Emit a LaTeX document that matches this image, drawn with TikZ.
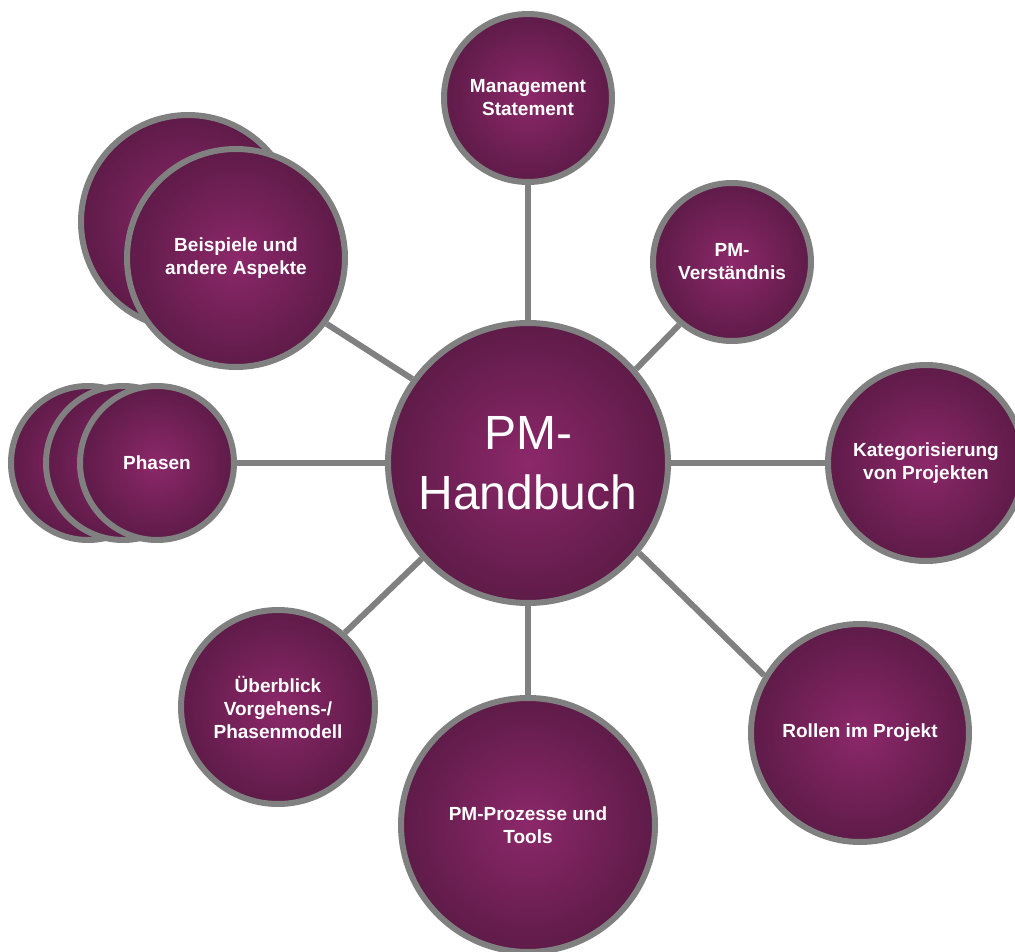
\documentclass[tikz,border=0pt]{standalone}
\usepackage{fontspec}
\setmainfont{Liberation Sans}
\pgfdeclarelayer{bg}
\pgfsetlayers{bg,main}
\definecolor{bubin}{RGB}{140,40,106}
\definecolor{bubout}{RGB}{94,27,72}
\definecolor{rim}{RGB}{128,128,128}
\tikzset{
  bubble/.style={circle, inner sep=0pt, draw=rim, line width=6pt,
    shading=radial, inner color=bubin, outer color=bubout,
    text=white, align=center, font=\bfseries\fontsize{19}{23}\selectfont},
  hubstyle/.style={bubble, font=\fontsize{48}{60}\selectfont},
  conn/.style={draw=rim, line width=6pt}
}
\begin{document}
\begin{tikzpicture}[x=1pt,y=-1pt]
\useasboundingbox (0,0) rectangle (1015,952);

% hub
\node[hubstyle, minimum size=280] (hub) at (528,463) {PM-\\Handbuch};

% satellites
\node[bubble, minimum size=168] (ms) at (528,98) {Management\\Statement};
\node[bubble, minimum size=158] (pmv) at (732,262) {PM-\\Verständnis};
\node[bubble, minimum size=196] (kat) at (926,463) {Kategorisierung\\von Projekten};
\node[bubble, minimum size=218] (rol) at (860,733) {Rollen im Projekt};
\node[bubble, minimum size=254] (pro) at (528,825) {PM-Prozesse und\\Tools};
\node[bubble, minimum size=194] (ueb) at (278,707) {Überblick\\Vorgehens-/\\Phasenmodell};

% stacked Phasen bubbles
\node[bubble, minimum size=154] (phc) at (88,463) {};
\node[bubble, minimum size=154] (phb) at (123,463) {};
\node[bubble, minimum size=154] (pha) at (157,463) {Phasen};

% stacked Beispiele bubbles
\node[bubble, minimum size=214] (bsb) at (188,222) {};
\node[bubble, minimum size=218] (bsp) at (236,258) {Beispiele und\\andere Aspekte};

% connectors behind the bubbles
\begin{pgfonlayer}{bg}
\draw[conn] (hub.90) -- (ms.270);
\draw[conn] (hub.41) -- (pmv.230);
\draw[conn] (hub.0) -- (kat.180);
\draw[conn] (hub.-39) -- (rol.149);
\draw[conn] (hub.270) -- (pro.90);
\draw[conn] (hub.222) -- (ueb.48);
\draw[conn] (hub.180) -- (pha.0);
\draw[conn] (hub.144) -- (bsp.-36);
\end{pgfonlayer}
\end{tikzpicture}
\end{document}
